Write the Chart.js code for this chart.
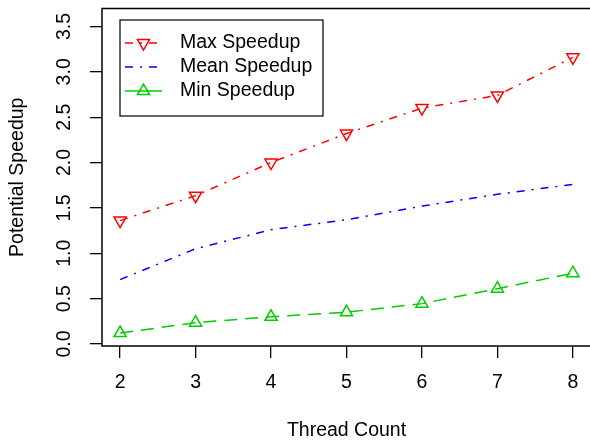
<!DOCTYPE html>
<html>
<head>
<meta charset="utf-8">
<script src="https://cdn.jsdelivr.net/npm/chart.js@4"></script>
<style>
  html, body { margin: 0; padding: 0; background: #fff; overflow: hidden; }
  #wrap { width: 600px; height: 440px; }
</style>
</head>
<body>
<div id="wrap"><canvas id="speedupChart" width="600" height="440"></canvas></div>
<script>
// Data
const threads = [2, 3, 4, 5, 6, 7, 8];
const maxSpeedup = [1.36, 1.635, 2.0, 2.32, 2.60, 2.74, 3.16];
const meanSpeedup = [0.71, 1.05, 1.26, 1.37, 1.52, 1.65, 1.76];
const minSpeedup = [0.12, 0.235, 0.30, 0.35, 0.445, 0.61, 0.78];
const xTicks = [2, 3, 4, 5, 6, 7, 8];
const yTicks = [0, 0.5, 1, 1.5, 2, 2.5, 3, 3.5];
const seriesNames = ['Max Speedup', 'Mean Speedup', 'Min Speedup'];

const FONT = 'Liberation Sans, Arial, Helvetica, sans-serif';
Chart.defaults.font.family = FONT;
Chart.defaults.font.size = 19.5;
Chart.defaults.color = '#000';

function toPoints(values) {
    return threads.map((t, i) => ({ x: t, y: values[i] }));
}

// R-style box around the plotting region
const boxPlugin = {
    id: 'box',
    afterDraw(chart) {
        const { ctx, chartArea: a } = chart;
        ctx.save();
        ctx.strokeStyle = '#000';
        ctx.lineWidth = 1.5;
        ctx.strokeRect(a.left, a.top, a.right - a.left, a.bottom - a.top);
        ctx.restore();
    }
};

// Legend drawn inside the plot, like legend("topleft") in R
const innerLegend = {
    id: 'innerLegend',
    afterDraw(chart) {
        const ctx = chart.ctx;
        ctx.save();
        ctx.fillStyle = '#fff';
        ctx.fillRect(120, 20, 203, 96);
        ctx.strokeStyle = '#000';
        ctx.lineWidth = 1.2;
        ctx.strokeRect(120, 20, 203, 96);

        const rows = [43, 67, 91];
        chart.data.datasets.forEach((ds, i) => {
            const y = rows[i];
            ctx.strokeStyle = ds.borderColor;
            ctx.lineWidth = ds.borderWidth;
            ctx.setLineDash(i === 2 ? [] : ds.borderDash);
            ctx.beginPath();
            ctx.moveTo(125, y);
            ctx.lineTo(162, y);
            ctx.stroke();
            ctx.setLineDash([]);
            if (ds.pointRadius > 0) {
                ctx.fillStyle = 'rgba(0,0,0,0)';
                Chart.helpers.drawPoint(ctx, {
                    pointStyle: 'triangle',
                    radius: ds.pointRadius,
                    rotation: ds.pointRotation || 0,
                    borderWidth: ds.pointBorderWidth
                }, 143.5, y);
            }
            ctx.fillStyle = '#000';
            ctx.font = '19.5px ' + FONT;
            ctx.textAlign = 'left';
            ctx.textBaseline = 'middle';
            ctx.fillText(seriesNames[i], 180, y);
        });
        ctx.restore();
    }
};

new Chart(document.getElementById('speedupChart'), {
    type: 'line',
    data: {
        datasets: [
            {
                label: seriesNames[0],
                data: toPoints(maxSpeedup),
                borderColor: '#ff0000',
                borderWidth: 1.5,
                borderDash: [8, 7, 2, 7],
                pointStyle: 'triangle',
                pointRotation: 180,
                pointRadius: 7,
                pointBorderWidth: 1.5,
                pointBorderColor: '#ff0000',
                pointBackgroundColor: 'rgba(0,0,0,0)',
                tension: 0
            },
            {
                label: seriesNames[1],
                data: toPoints(meanSpeedup),
                borderColor: '#0000ff',
                borderWidth: 1.5,
                borderDash: [8, 7, 2, 7],
                pointRadius: 0,
                tension: 0
            },
            {
                label: seriesNames[2],
                data: toPoints(minSpeedup),
                borderColor: '#00cd00',
                borderWidth: 1.5,
                borderDash: [13, 8],
                pointStyle: 'triangle',
                pointRadius: 7,
                pointBorderWidth: 1.5,
                pointBorderColor: '#00cd00',
                pointBackgroundColor: 'rgba(0,0,0,0)',
                tension: 0
            }
        ]
    },
    options: {
        responsive: false,
        animation: false,
        layout: { padding: { top: 7, right: 9, left: 0, bottom: 0 } },
        plugins: {
            legend: { display: false },
            tooltip: { enabled: false }
        },
        scales: {
            x: {
                type: 'linear',
                min: 1.76,
                max: 8.24,
                afterFit: s => {
                    s.height = 94;
                    s.paddingLeft = 0;
                    s.paddingRight = 0;
                },
                afterBuildTicks: s => { s.ticks = xTicks.map(v => ({ value: v })); },
                border: { display: false },
                grid: {
                    drawOnChartArea: false,
                    drawTicks: true,
                    tickLength: 12,
                    color: '#000',
                    lineWidth: 1.3
                },
                ticks: { padding: 13, maxRotation: 0, autoSkip: false },
                title: {
                    display: true,
                    text: 'Thread Count',
                    padding: { top: 0, bottom: -2 }
                }
            },
            y: {
                type: 'linear',
                min: -0.022,
                max: 3.698,
                afterFit: s => {
                    s.width = 102;
                    s.paddingTop = 0;
                    s.paddingBottom = 0;
                },
                afterBuildTicks: s => { s.ticks = yTicks.map(v => ({ value: v })); },
                border: { display: false },
                grid: {
                    drawOnChartArea: false,
                    drawTicks: true,
                    tickLength: 12,
                    color: '#000',
                    lineWidth: 1.3
                },
                ticks: {
                    padding: 11.5,
                    minRotation: 90,
                    maxRotation: 90,
                    crossAlign: 'center',
                    autoSkip: false,
                    callback: v => v.toFixed(1)
                },
                title: {
                    display: true,
                    text: 'Potential Speedup',
                    padding: { top: 6, bottom: 0 }
                }
            }
        }
    },
    plugins: [boxPlugin, innerLegend]
});
</script>
</body>
</html>
